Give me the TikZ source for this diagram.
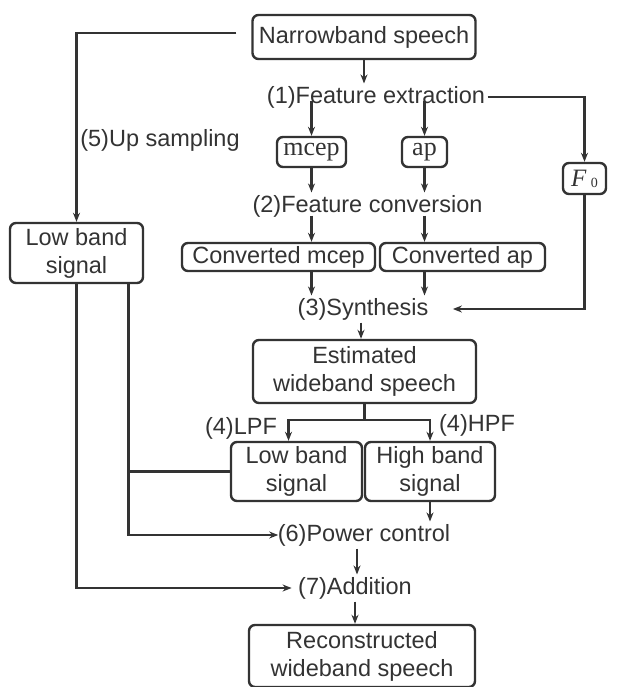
\documentclass[tikz,border=0pt]{standalone}
\usepackage{fontspec}
\setmainfont{Liberation Sans}
\newfontfamily\tmsfont{Liberation Serif}
\usetikzlibrary{arrows.meta}
\definecolor{ink}{gray}{0.2}

\begin{document}
\begin{tikzpicture}[x=1pt, y=-1pt, ink, line width=2.2pt,
		blk/.style={draw, rounded corners=6pt, line width=2.4pt, inner sep=0pt, align=center, font=\fontsize{23.5}{28}\selectfont},
		lbl/.style={inner sep=1.5pt, font=\fontsize{23.5}{28}\selectfont},
		flow/.style={-{Stealth[length=9pt, width=7pt]}}]
		
		\useasboundingbox (0,0) rectangle (617,687);
		
		\node[blk, minimum width=223pt, minimum height=44pt] (nb) at (364,37) {Narrowband speech};
		\node[lbl] (fe) at (376,97) {(1)Feature extraction};
		\node[lbl] (up) at (160,140) {(5)Up sampling};
		\node[blk, minimum width=69pt, minimum height=30pt, font=\tmsfont\fontsize{26}{28}\selectfont] (mcep) at (311.5,152) {mcep};
		\node[blk, minimum width=45pt, minimum height=30pt, font=\tmsfont\fontsize{26}{28}\selectfont] (ap) at (424.5,152) {ap};
		\node[blk, minimum width=43pt, minimum height=31pt, font=\tmsfont\fontsize{25}{26}\selectfont] (fzero) at (584.5,178.5) {\textit{F}\,\raisebox{-1pt}{\fontsize{14}{14}\selectfont 0}};
		\node[lbl] (fc) at (367.5,206) {(2)Feature conversion};
		\node[blk, minimum width=193pt, minimum height=28pt] (cmcep) at (278.5,257) {Converted mcep};
		\node[blk, minimum width=165pt, minimum height=28pt] (cap) at (462.5,257) {Converted ap};
		\node[blk, minimum width=133pt, minimum height=60pt] (lowl) at (76.5,253) {Low band\\signal};
		\node[lbl] (syn) at (363,309) {(3)Synthesis};
		\node[blk, minimum width=223pt, minimum height=63pt] (est) at (364.5,371.5) {Estimated\\wideband speech};
		\node[lbl] (lpf) at (241,428) {(4)LPF};
		\node[lbl] (hpf) at (477,425) {(4)HPF};
		\node[blk, minimum width=131pt, minimum height=59pt] (lowm) at (296.5,471.5) {Low band\\signal};
		\node[blk, minimum width=130pt, minimum height=59pt] (high) at (430,471.5) {High band\\signal};
		\node[lbl] (pc) at (364,535) {(6)Power control};
		\node[lbl] (add) at (355,588) {(7)Addition};
		\node[blk, minimum width=226pt, minimum height=62pt] (rec) at (362,656) {Reconstructed\\wideband speech};
		
		% analysis part
		\draw[flow] ([xshift=-15pt, yshift=4pt]nb.west) -| (lowl.north);
		\draw[flow] (nb.south) -- (nb.south |- fe.north);
		\draw[flow] ([yshift=-4pt]fe.center -| mcep.north) -- (mcep.north);
		\draw[flow] ([yshift=-4pt]fe.center -| ap.north) -- (ap.north);
		\draw[flow] (fe.east) -| (fzero.north);
		\draw[flow] (mcep.south) -- (mcep.south |- fc.north);
		\draw[flow] (ap.south) -- (ap.south |- fc.north);
		\draw[flow] ([yshift=4pt]fc.south -| mcep.south) -- (cmcep.north -| mcep.south);
		\draw[flow] ([yshift=4pt]fc.south -| ap.south) -- (cap.north -| ap.south);
		\draw[flow] (cmcep.south -| mcep.south) -- (syn.north -| mcep.south);
		\draw[flow] (cap.south -| ap.south) -- (syn.north -| ap.south);
		\draw[flow, shorten >=22pt] (fzero.south) |- (syn.east);
		\draw[flow] (syn.south -| 361,0) -- (est.north -| 361,0);
		
		% band split and recombination
		\coordinate (split) at ([yshift=-16pt]est.south);
		\draw (est.south) -- (split);
		\draw[flow] (split) -| ([xshift=-8pt]lowm.north);
		\draw[flow] (split) -| (high.north);
		\coordinate (tap) at ([xshift=52pt]lowl.south);
		\draw (lowm.west) -- (lowm.west -| tap);
		\draw[flow, shorten >=-3pt] (tap) |- (pc.west);
		\draw[flow, shorten >=4pt] (lowl.south) |- (add.west);
		\draw[flow] (high.south) -- (high.south |- pc.north);
		\draw[flow] (pc.south -| 357,0) -- (add.north -| 357,0);
		\draw[flow] (add.south) -- (add.south |- rec.north);
		
	\end{tikzpicture}
\end{document}
